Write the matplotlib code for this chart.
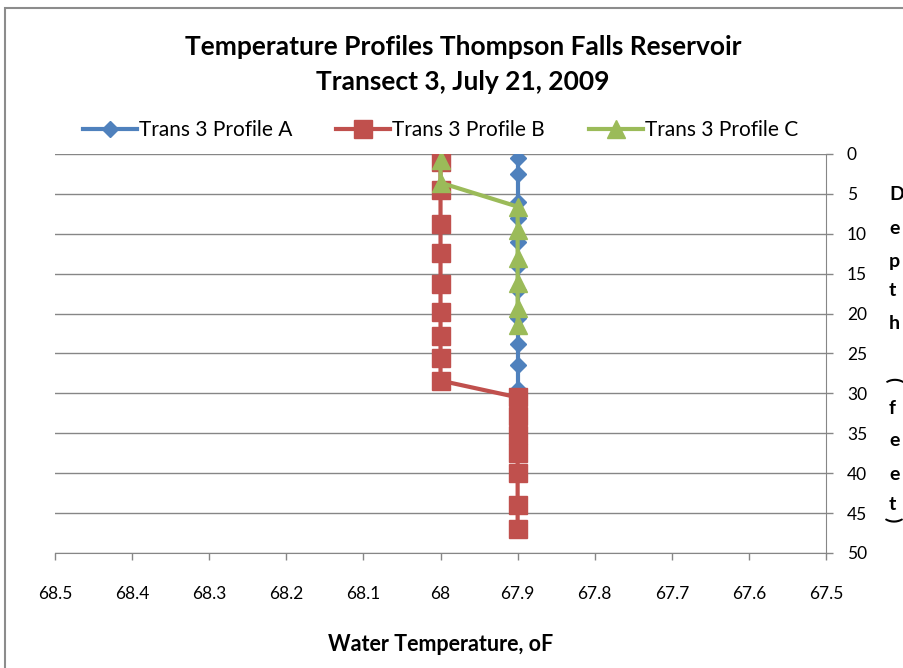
import matplotlib
matplotlib.use('Agg')
import matplotlib.pyplot as plt
from matplotlib.ticker import FuncFormatter
from matplotlib.patches import Rectangle

plt.rcParams['font.family'] = ['Lato', 'DejaVu Sans']

#дані профілів (температура, глибина)
temp_a = [67.9, 67.9, 67.9, 67.9, 67.9, 67.9, 67.9, 67.9, 67.9, 67.9, 67.9]
depth_a = [0.5, 2.5, 6, 8, 11, 14, 17, 20.5, 23.8, 26.5, 29.5]

temp_b = [68.0, 68.0, 68.0, 68.0, 68.0, 68.0, 68.0, 68.0, 68.0,
          67.9, 67.9, 67.9, 67.9, 67.9, 67.9, 67.9]
depth_b = [1, 4.5, 8.8, 12.4, 16.3, 19.8, 22.8, 25.6, 28.4,
           30.5, 32.8, 35.2, 37.5, 40, 44, 47]

temp_c = [68.0, 68.0, 67.9, 67.9, 67.9, 67.9, 67.9, 67.9]
depth_c = [0.8, 3.6, 6.6, 9.5, 13, 16.2, 19.3, 21.4]

x_ticks = [68.5, 68.4, 68.3, 68.2, 68.1, 68.0, 67.9, 67.8, 67.7, 67.6, 67.5]
y_ticks = [0, 5, 10, 15, 20, 25, 30, 35, 40, 45, 50]

fig = plt.figure(figsize=(9.04, 6.68), dpi=100)
ax = fig.add_axes([0.0608, 0.1722, 0.853, 0.5973])

#рамка діаграми
fig.patches.append(Rectangle((5 / 904, -0.1), 1.2, 1 - 8 / 668 + 0.1,
                             transform=fig.transFigure, fill=False,
                             edgecolor='#8c8c8c', lw=1.5))

ax.plot(temp_a, depth_a, color='#4F81BD', lw=3, marker='D', ms=8,
        label='Trans 3 Profile A')
ax.plot(temp_b, depth_b, color='#C0504D', lw=3, marker='s', ms=13.5,
        label='Trans 3 Profile B')
ax.plot(temp_c, depth_c, color='#9BBB59', lw=3, marker='^', ms=13,
        label='Trans 3 Profile C')

ax.set_xlim(68.5, 67.5)
ax.set_ylim(50, 0)
ax.set_xticks(x_ticks)
ax.set_yticks(y_ticks)
ax.xaxis.set_major_formatter(FuncFormatter(lambda v, p: ('%.1f' % v).rstrip('0').rstrip('.')))
ax.yaxis.tick_right()
ax.tick_params(axis='both', labelsize=12.5, length=5, color='#868686', width=1)
ax.tick_params(axis='y', pad=10)
ax.tick_params(axis='x', pad=19)
ax.grid(True, axis='y', color='#868686', lw=1)
ax.set_axisbelow(True)
for s in ['left', 'top']:
    ax.spines[s].set_visible(False)
for s in ['right', 'bottom']:
    ax.spines[s].set_color('#868686')

fig.text(0.512, 1 - 47 / 668, 'Temperature Profiles Thompson Falls Reservoir',
         ha='center', va='center', fontsize=19, fontweight='bold')
fig.text(0.512, 1 - 82 / 668, 'Transect 3, July 21, 2009',
         ha='center', va='center', fontsize=19, fontweight='bold')

ax.legend(loc='center', bbox_to_anchor=(0.5, 1.06), ncol=3, frameon=False,
          fontsize=15, handlelength=2.6, columnspacing=2.1, handletextpad=0.1)

ax.set_xlabel('Water Temperature, oF', fontsize=15.5, fontweight='bold', labelpad=23)

#вертикальна підпис осі Y
label_chars = ['D', 'e', 'p', 't', 'h', '(', 'f', 'e', 'e', 't', ')']
label_y = [195, 229, 262, 290, 324, 380, 408, 441, 475, 505, 520]
for ch, yy in zip(label_chars, label_y):
    if ch in '()':
        fig.text(884 / 904, 1 - yy / 668, ch, ha='left', va='center',
                 fontsize=14, fontweight='bold', rotation=-90)
    else:
        fig.text(889 / 904, 1 - yy / 668, ch, ha='left', va='center',
                 fontsize=14, fontweight='bold')

fig.savefig('out.png', dpi=100)
